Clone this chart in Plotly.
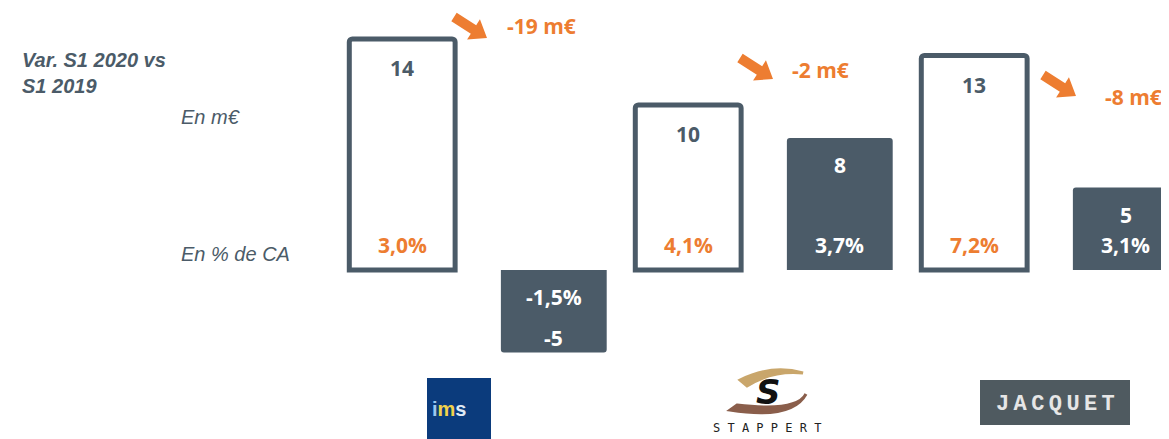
import math
import plotly.graph_objects as go

# EBITDA S1 2019 vs S1 2020, in m€ and in % of revenue
societes = ["IMS", "Stappert", "Jacquet"]
ebitda_s1_2019 = [14, 10, 13]
ebitda_s1_2020 = [-5, 8, 5]
marge_s1_2019 = ["3,0%", "4,1%", "7,2%"]
marge_s1_2020 = ["-1,5%", "3,7%", "3,1%"]

variation = [b - a for a, b in zip(ebitda_s1_2019, ebitda_s1_2020)]
idx = list(range(len(societes)))

W, H = 1169, 439
OFF = 8  # page body margin
SLATE = "#4b5b68"
ORANGE = "#ED7D31"
NUM_FONT = "Open Sans"
NUM_SIZE = 21
TXT_FONT = "Liberation Sans"

# axis scale (px per unit), positions in screen px
PX_X, X0_PX = 286, 478
PX_Y, Y0_PX = 16.5, 270
BAR_W = 0.37
HALF_GAP = 0.265


def px(x):
    return (x - OFF) / W


def py(y):
    return 1 - (y - OFF) / H


def arrow_path(x0, y0, x1, y1, hw=5, hl=16, hh=12):
    dx, dy = x1 - x0, y1 - y0
    L = math.hypot(dx, dy)
    ux, uy = dx / L, dy / L
    nx, ny = -uy, ux
    bx, by = x1 - ux * hl, y1 - uy * hl
    pts = [(x0 + nx * hw, y0 + ny * hw), (bx + nx * hw, by + ny * hw), (bx + nx * hh, by + ny * hh),
           (x1, y1), (bx - nx * hh, by - ny * hh), (bx - nx * hw, by - ny * hw),
           (x0 - nx * hw, y0 - ny * hw)]
    return "M " + " L ".join(f"{px(a)},{py(b)}" for a, b in pts) + " Z"


fig = go.Figure()
fig.add_trace(go.Bar(
    x=idx, y=ebitda_s1_2019, width=BAR_W, offset=-HALF_GAP - BAR_W / 2,
    marker=dict(color="white", line=dict(color=SLATE, width=5)),
    name="S1 2019", hoverinfo="skip"))
fig.add_trace(go.Bar(
    x=idx, y=ebitda_s1_2020, width=BAR_W, offset=HALF_GAP - BAR_W / 2,
    marker=dict(color=SLATE, line=dict(width=0)),
    name="S1 2020", hoverinfo="skip"))

ann = []
shapes = []
lab = dict(showarrow=False, xanchor="center", yanchor="middle")
for i in idx:
    xw, xd = i - HALF_GAP, i + HALF_GAP
    ann.append(dict(x=xw, y=ebitda_s1_2019[i], yshift=-29, text=str(ebitda_s1_2019[i]),
                    font=dict(family=NUM_FONT, size=NUM_SIZE, color=SLATE, weight="bold"), **lab))
    ann.append(dict(x=xw, y=0, yshift=25, text=marge_s1_2019[i],
                    font=dict(family=NUM_FONT, size=NUM_SIZE, color=ORANGE, weight="bold"), **lab))
    v = ebitda_s1_2020[i]
    wf = dict(family=NUM_FONT, size=NUM_SIZE, color="white", weight="bold")
    if v >= 0:
        ann.append(dict(x=xd, y=v, yshift=-27, text=str(v), font=wf, **lab))
        ann.append(dict(x=xd, y=0, yshift=25, text=marge_s1_2020[i], font=wf, **lab))
    else:
        ann.append(dict(x=xd, y=0, yshift=-27, text=marge_s1_2020[i], font=wf, **lab))
        ann.append(dict(x=xd, y=v, yshift=15, text=str(v), font=wf, **lab))

# variation arrows (tip offset from group centre, in px)
arrow_tip_dx = [9, 9, 26]
arrow_tip_y = [38, 79, 96]
text_dx = [27, 26, 53]
text_y = [26, 70, 97]
for i in idx:
    cx = X0_PX + PX_X * i
    tx, ty = cx + arrow_tip_dx[i], arrow_tip_y[i]
    shapes.append(dict(type="path", xref="paper", yref="paper",
                       path=arrow_path(tx - 33, ty - 21, tx, ty),
                       fillcolor=ORANGE, line=dict(width=0)))
    ann.append(dict(x=px(cx + text_dx[i]), y=py(text_y[i]), xref="paper", yref="paper",
                    xanchor="left", yanchor="middle", showarrow=False, text=f"{variation[i]} m€",
                    font=dict(family=NUM_FONT, size=NUM_SIZE, color=ORANGE, weight="bold")))

# left-hand labels
ann.append(dict(x=px(20), y=py(47), xref="paper", yref="paper", xanchor="left", yanchor="top",
                showarrow=False, align="left", text="<b><i>Var. S1 2020 vs<br>S1 2019</i></b>",
                font=dict(family=TXT_FONT, size=20, color=SLATE)))
ann.append(dict(x=px(179), y=py(117), xref="paper", yref="paper", xanchor="left", yanchor="middle",
                showarrow=False, text="<i>En m€</i>",
                font=dict(family=TXT_FONT, size=20, color=SLATE)))
ann.append(dict(x=px(179), y=py(254), xref="paper", yref="paper", xanchor="left", yanchor="middle",
                showarrow=False, text="<i>En % de CA</i>",
                font=dict(family=TXT_FONT, size=20, color=SLATE)))

# logos (approximated)
shapes += [
    dict(type="rect", xref="paper", yref="paper", x0=px(427), x1=px(491), y0=py(447), y1=py(378),
         fillcolor="#0b3b7c", line=dict(width=0)),
    dict(type="rect", xref="paper", yref="paper", x0=px(980), x1=px(1130), y0=py(425), y1=py(380),
         fillcolor="#4f5a60", line=dict(width=0)),
]
tan = f"M {px(740)},{py(380)} Q {px(772)},{py(364)} {px(803)},{py(373)} Q {px(772)},{py(370)} {px(747)},{py(386)} Z"
brown = f"M {px(730)},{py(410)} Q {px(792)},{py(420)} {px(806)},{py(394)} Q {px(797)},{py(412)} {px(737)},{py(405)} Z"
shapes.append(dict(type="path", xref="paper", yref="paper", path=tan, fillcolor="#c9a66b",
                   line=dict(color="#c9a66b", width=3)))
shapes.append(dict(type="path", xref="paper", yref="paper", path=brown, fillcolor="#8a5e4b",
                   line=dict(color="#8a5e4b", width=3)))
ann.append(dict(x=px(768), y=py(392), xref="paper", yref="paper", xanchor="center", yanchor="middle",
                showarrow=False, text="<b><i>S</i></b>",
                font=dict(family="DejaVu Sans", size=34, color="#111111")))
ann.append(dict(x=px(767), y=py(428), xref="paper", yref="paper", xanchor="center", yanchor="middle",
                showarrow=False, text="S\u2009T\u2009A\u2009P\u2009P\u2009E\u2009R\u2009T",
                font=dict(family="DejaVu Sans Mono", size=12, color="#222222")))
ann.append(dict(x=px(1055), y=py(404), xref="paper", yref="paper", xanchor="center", yanchor="middle",
                showarrow=False, text="<b>J\u2009A\u2009C\u2009Q\u2009U\u2009E\u2009T</b>",
                font=dict(family="Liberation Mono", size=22, color="#e6e6e6")))
ann.append(dict(x=px(449), y=py(409), xref="paper", yref="paper", xanchor="center", yanchor="middle",
                showarrow=False,
                text="<b><span style='color:#9cc8f0'>i</span><span style='color:#f2d24b'>m</span>"
                     "<span style='color:#dfe9f5'>s</span></b>",
                font=dict(family="Liberation Sans", size=20)))

fig.update_layout(
    width=W, height=H, margin=dict(l=0, r=0, t=0, b=0),
    paper_bgcolor="white", plot_bgcolor="white",
    barmode="overlay", barcornerradius=3, showlegend=False,
    xaxis=dict(range=[-(X0_PX - OFF) / PX_X, (W + OFF - X0_PX) / PX_X], visible=False, fixedrange=True),
    yaxis=dict(range=[-(H + OFF - Y0_PX) / PX_Y, (Y0_PX - OFF) / PX_Y], visible=False, fixedrange=True),
    annotations=ann, shapes=shapes,
)

fig.write_html("out.html")
